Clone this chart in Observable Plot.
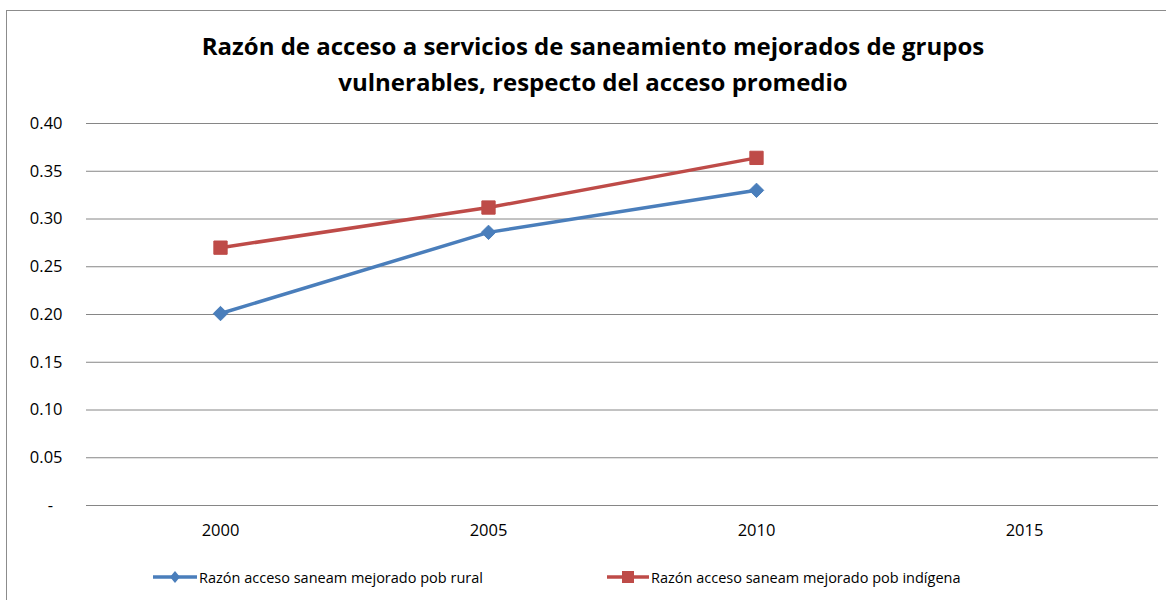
<!DOCTYPE html>
<html>
<head>
<meta charset="utf-8">
<script src="https://cdn.jsdelivr.net/npm/d3@7"></script>
<script src="https://cdn.jsdelivr.net/npm/@observablehq/plot@0.6"></script>
<style>
  html, body { margin: 0; padding: 0; background: #fff; width: 1166px; height: 600px; overflow: hidden; }
  body { font-family: "Open Sans", Lato, sans-serif; position: relative; }
  #frame { position: absolute; left: 6px; top: 10px; width: 1174px; height: 600px; border: 1px solid #8c8c8c; box-sizing: border-box; }
  #title { position: absolute; left: 6px; width: 1174px; top: 28px; text-align: center; font-weight: bold; font-size: 24px; line-height: 36px; color: #000; }
  #chart { position: absolute; left: 0; top: 100px; }
  #legend { position: absolute; top: 565px; left: 0; width: 1166px; height: 24px; font-size: 14.5px; color: #000; }
  .item { position: absolute; top: 0; display: flex; align-items: center; height: 24px; }
  .item svg { margin-right: 2px; }
</style>
</head>
<body>
<div id="frame"></div>
<div id="title">Razón de acceso a servicios de saneamiento mejorados de grupos<br>vulnerables, respecto del acceso promedio</div>
<div id="chart"></div>
<div id="legend"></div>
<script>
const years = ["2000", "2005", "2010", "2015"];
const seriesNames = ["Razón acceso saneam mejorado pob rural", "Razón acceso saneam mejorado pob indígena"];
const ruralValues = [0.201, 0.286, 0.330];
const indigenaValues = [0.270, 0.312, 0.364];
const yTicks = [0, 0.05, 0.10, 0.15, 0.20, 0.25, 0.30, 0.35, 0.40];
const colors = ["#4a7ebb", "#be4b48"];

const rural = ruralValues.map((v, i) => ({year: years[i], value: v, series: seriesNames[0]}));
const indigena = indigenaValues.map((v, i) => ({year: years[i], value: v, series: seriesNames[1]}));

const chart = Plot.plot({
  width: 1166,
  height: 440,
  marginLeft: 86,
  marginRight: 8,
  marginTop: 23,
  marginBottom: 35,
  style: {fontFamily: "'Open Sans', Lato, sans-serif", fontSize: "16.5px", color: "#000", background: "transparent"},
  x: {type: "point", domain: years, padding: 0.5, label: null, tickSize: 0, tickPadding: 19},
  y: {domain: [0, 0.40], ticks: yTicks, tickSize: 0, tickPadding: 24, label: null,
      tickFormat: d => d === 0 ? "-\u2007" : d.toFixed(2)},
  marks: [
    Plot.ruleY(yTicks, {stroke: "#868686", strokeWidth: 1, strokeOpacity: 1}),
    Plot.line(rural, {x: "year", y: "value", stroke: colors[0], strokeWidth: 3.5}),
    Plot.line(indigena, {x: "year", y: "value", stroke: colors[1], strokeWidth: 3.5}),
    Plot.dot(rural, {x: "year", y: "value", symbol: "diamond2", fill: colors[0], stroke: colors[0], strokeWidth: 1, r: 6.5}),
    Plot.dot(indigena, {x: "year", y: "value", symbol: "square", fill: colors[1], stroke: colors[1], strokeWidth: 1, r: 7.5})
  ]
});
document.getElementById("chart").appendChild(chart);

// legend
const legend = document.getElementById("legend");
const lefts = [153, 607];
seriesNames.forEach((name, i) => {
  const item = document.createElement("div");
  item.className = "item";
  item.style.left = lefts[i] + "px";
  const sw = i === 0
    ? `<svg width="44" height="14"><line x1="0" y1="7" x2="44" y2="7" stroke="${colors[0]}" stroke-width="3.5"/><path d="M22,1 L27,7 L22,13 L17,7 Z" fill="${colors[0]}"/></svg>`
    : `<svg width="42" height="14"><line x1="0" y1="7" x2="42" y2="7" stroke="${colors[1]}" stroke-width="3.5"/><rect x="15" y="1" width="12" height="12" fill="${colors[1]}"/></svg>`;
  item.innerHTML = sw + `<span>${name}</span>`;
  legend.appendChild(item);
});
</script>
</body>
</html>
